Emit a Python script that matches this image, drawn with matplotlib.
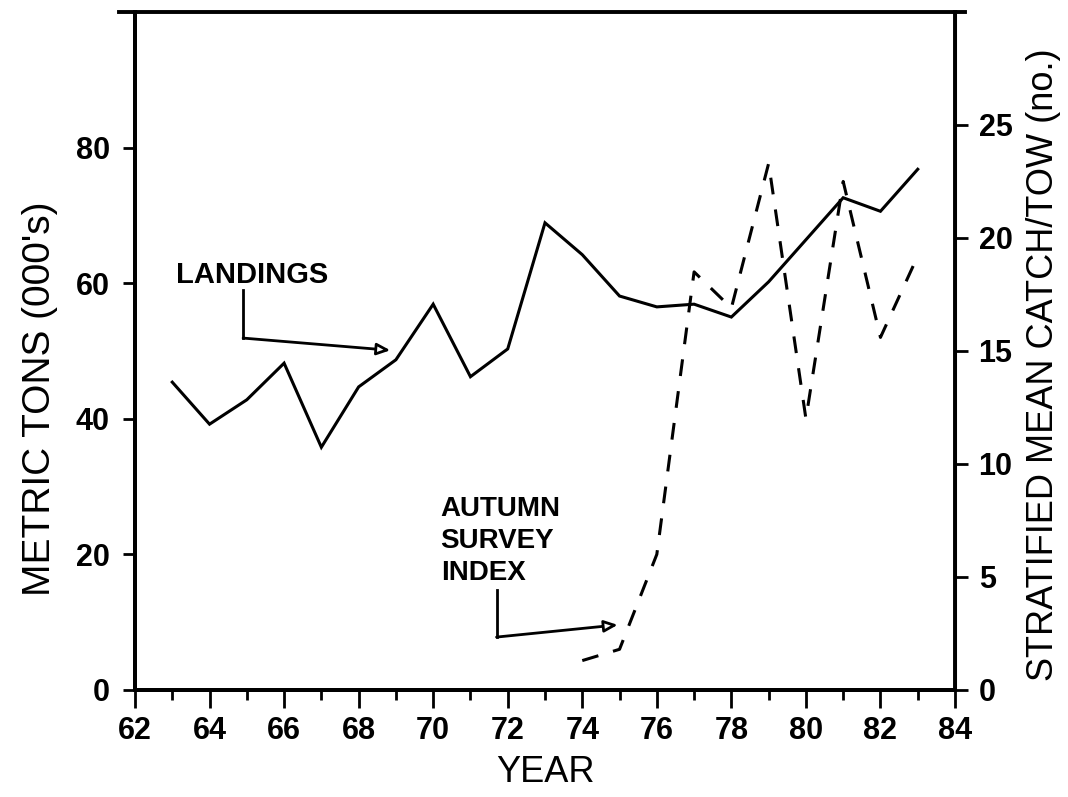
import matplotlib
matplotlib.use('Agg')
import matplotlib.pyplot as plt
from matplotlib.ticker import MultipleLocator

plt.rcParams['font.family'] = ['Liberation Sans', 'DejaVu Sans']

# landings, thousands of metric tons (left axis)
land_years = [63, 64, 65, 66, 67, 68, 69, 70, 71, 72, 73,
              74, 75, 76, 77, 78, 79, 80, 81, 82, 83]
landings = [45.4, 39.2, 42.8, 48.2, 35.8, 44.7, 48.7, 56.9, 46.2, 50.3, 68.9,
            64.2, 58.1, 56.5, 56.9, 55.0, 60.2, 66.4, 72.6, 70.6, 76.8]

# autumn survey, stratified mean catch per tow (right axis)
survey_years = [74, 75, 76, 77, 78, 79, 80, 81, 82, 83]
survey_index = [1.3, 1.8, 6.0, 18.5, 16.9, 23.3, 12.0, 22.5, 15.6, 19.2]

x_ticks = list(range(62, 85, 2))
left_ticks = [0, 20, 40, 60, 80]
right_ticks = [0, 5, 10, 15, 20, 25]

fig = plt.figure(figsize=(10.68, 7.97), dpi=100)
ax = fig.add_axes([0.1264, 0.1343, 0.7678, 0.8507])
ax2 = ax.twinx()

ax.plot(land_years, landings, color='black', lw=2.2, solid_joinstyle='miter')
ax2.plot(survey_years, survey_index, color='black', lw=2.2, linestyle=(0, (5.5, 5)))

ax.set_xlim(62, 84)
ax.set_ylim(0, 100)
ax2.set_ylim(0, 30)
ax.set_xticks(x_ticks)
ax.xaxis.set_minor_locator(MultipleLocator(1))
ax.set_yticks(left_ticks)
ax2.set_yticks(right_ticks)

tick_font = dict(fontsize=22, fontweight='bold')
ax.set_xticklabels([str(t) for t in x_ticks], **tick_font)
ax.set_yticklabels([str(t) for t in left_ticks], **tick_font)
ax2.set_yticklabels([str(t) for t in right_ticks], **tick_font)

ax.tick_params(axis='x', which='major', direction='out', length=13, width=2, pad=6)
ax.tick_params(axis='x', which='minor', direction='out', length=7, width=2)
ax.tick_params(axis='y', direction='out', length=9, width=2, pad=9)
ax2.tick_params(axis='y', direction='out', length=9, width=2, pad=8)

for a in (ax, ax2):
    for s in a.spines.values():
        s.set_linewidth(2.8)
    a.spines['top'].set_visible(False)
ax2.spines['right'].set_linewidth(2.2)

# top border runs a little past both sides
ax.plot([-0.02, 1.012], [1, 1], transform=ax.transAxes, color='black',
        lw=2.8, clip_on=False)

ax.set_xlabel('YEAR', fontsize=26, labelpad=6)
ax.set_ylabel("METRIC TONS (000's)", fontsize=28)
ax2.set_ylabel('STRATIFIED MEAN CATCH/TOW (no.)', fontsize=26)
ax.yaxis.set_label_coords(-0.094, 0.43)
ax2.yaxis.set_label_coords(1.086, 0.48)

# callout labels
ax.text(63.1, 60.0, 'LANDINGS', fontsize=21, fontweight='bold', ha='left', va='baseline')
ax.plot([64.9, 64.9], [59.0, 51.9], color='black', lw=2)
ax.annotate('', xy=(68.85, 50.1), xytext=(64.9, 51.9),
            arrowprops=dict(arrowstyle='-|>,head_length=0.8,head_width=0.35',
                            fc='white', ec='black', lw=2, shrinkA=0, shrinkB=0))

ax.text(70.2, 15.3, 'AUTUMN\nSURVEY\nINDEX', fontsize=20, fontweight='bold',
        ha='left', va='bottom', linespacing=1.3)
ax.plot([71.7, 71.7], [14.7, 7.8], color='black', lw=2)
ax.annotate('', xy=(74.95, 9.6), xytext=(71.7, 7.8),
            arrowprops=dict(arrowstyle='-|>,head_length=0.8,head_width=0.35',
                            fc='white', ec='black', lw=2, shrinkA=0, shrinkB=0))

plt.savefig('out.png', dpi=100)
